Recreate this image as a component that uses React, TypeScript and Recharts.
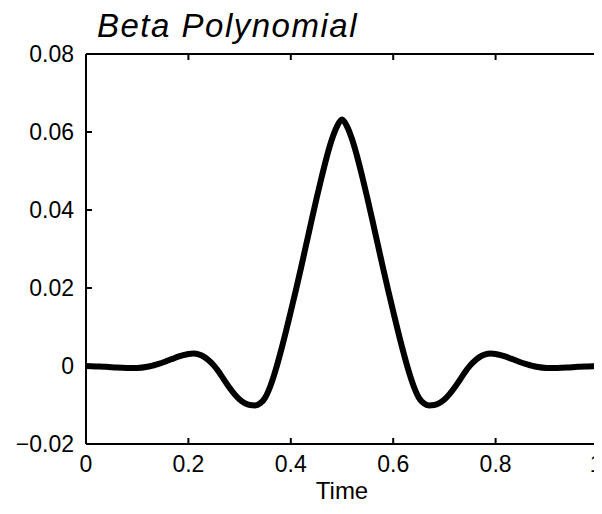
import { Line, LineChart, XAxis, YAxis } from "recharts";

const times = [
	0, 0.02, 0.04, 0.06, 0.08, 0.1, 0.12, 0.13, 0.14, 0.15, 0.16, 0.17, 0.18, 0.19, 0.2, 0.21, 0.22, 0.23, 0.24, 0.25,
	0.26, 0.27, 0.28, 0.29, 0.3, 0.31, 0.32, 0.33, 0.34, 0.35, 0.36, 0.37, 0.38, 0.39, 0.4, 0.41, 0.42, 0.43, 0.44,
	0.45, 0.46, 0.47, 0.48, 0.49, 0.5, 0.51, 0.52, 0.53, 0.54, 0.55, 0.56, 0.57, 0.58, 0.59, 0.6, 0.61, 0.62, 0.63,
	0.64, 0.65, 0.66, 0.67, 0.68, 0.69, 0.7, 0.71, 0.72, 0.73, 0.74, 0.75, 0.76, 0.77, 0.78, 0.79, 0.8, 0.81, 0.82,
	0.83, 0.84, 0.85, 0.86, 0.87, 0.88, 0.9, 0.92, 0.94, 0.96, 0.98, 1,
];

const betaValues = [
	0, -0.0001, -0.0002, -0.0004, -0.0005, -0.0005, -0.0002, 0.0001, 0.0005, 0.0009, 0.0014, 0.0019, 0.0024, 0.0028,
	0.0031, 0.0032, 0.003, 0.0024, 0.0014, 0.0001, -0.0016, -0.0036, -0.0055, -0.0072, -0.0086, -0.0095, -0.01,
	-0.0101, -0.0096, -0.0081, -0.0052, -0.0012, 0.0035, 0.0086, 0.014, 0.0195, 0.0252, 0.0311, 0.037, 0.0428, 0.0483,
	0.0535, 0.058, 0.0614, 0.0632, 0.0614, 0.058, 0.0535, 0.0483, 0.0428, 0.037, 0.0311, 0.0252, 0.0195, 0.014, 0.0086,
	0.0035, -0.0012, -0.0052, -0.0081, -0.0096, -0.0101, -0.01, -0.0095, -0.0086, -0.0072, -0.0055, -0.0036, -0.0016,
	0.0001, 0.0014, 0.0024, 0.003, 0.0032, 0.0031, 0.0028, 0.0024, 0.0019, 0.0014, 0.0009, 0.0005, 0.0001, -0.0002,
	-0.0005, -0.0005, -0.0004, -0.0002, -0.0001, 0,
];

const xTicks = [0, 0.2, 0.4, 0.6, 0.8, 1];
const yTicks = [-0.02, 0, 0.02, 0.04, 0.06, 0.08];

const chartData = times.map((t, i) => ({ t, v: betaValues[i] }));

const FONT = "Liberation Sans, Arial, sans-serif";

const fmtY = (v: number) => (v === 0 ? "0" : v < 0 ? `\u2212${Math.abs(v).toFixed(2)}` : v.toFixed(2));
const noLabel = () => "";

export default function App() {
	// body keeps its 8px margin, so the chart is 8px smaller each way
	return (
		<div style={{ position: "relative", width: 594, height: 506, fontFamily: FONT, color: "#000" }}>
			<LineChart width={594} height={506} data={chartData} margin={{ top: 26, right: 0, bottom: 0, left: 0 }}>
				{/* negative tickSize puts the ticks inside the box */}
				<XAxis
					dataKey="t"
					type="number"
					domain={[0, 1]}
					ticks={xTicks}
					height={70}
					stroke="#000"
					strokeWidth={2}
					fontSize={23}
					tickSize={-6}
					tickMargin={18}
				/>
				<XAxis
					xAxisId="top"
					orientation="top"
					dataKey="t"
					type="number"
					domain={[0, 1]}
					ticks={xTicks}
					height={20}
					stroke="#000"
					strokeWidth={2}
					tickSize={-6}
					tickFormatter={noLabel}
				/>
				<YAxis
					type="number"
					domain={[-0.02, 0.08]}
					ticks={yTicks}
					width={78}
					stroke="#000"
					strokeWidth={2}
					fontSize={23}
					tickSize={-6}
					tickMargin={18}
					tickFormatter={fmtY}
				/>
				<YAxis
					yAxisId="right"
					orientation="right"
					type="number"
					domain={[-0.02, 0.08]}
					ticks={yTicks}
					width={4}
					stroke="#000"
					strokeWidth={2}
					tickSize={-6}
					tickFormatter={noLabel}
				/>
				<Line type="monotone" dataKey="v" stroke="#000" strokeWidth={6} dot={false} isAnimationActive={false} />
			</LineChart>
			<div
				style={{
					position: "absolute",
					left: 89,
					top: 1,
					fontStyle: "italic",
					fontSize: 33,
					lineHeight: 1,
					letterSpacing: 1.5,
					whiteSpace: "nowrap",
				}}
			>
				Beta Polynomial
			</div>
			<div
				style={{
					position: "absolute",
					left: 334,
					top: 471,
					transform: "translateX(-50%)",
					fontSize: 24,
					lineHeight: 1,
					whiteSpace: "nowrap",
				}}
			>
				Time
			</div>
		</div>
	);
}
